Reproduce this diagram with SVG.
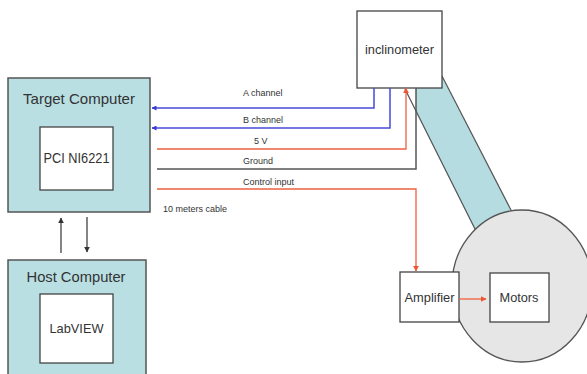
<svg xmlns="http://www.w3.org/2000/svg" width="587" height="374" viewBox="0 0 587 374">
<defs>
<marker id="ab" viewBox="0 0 10 10" refX="9" refY="5" markerWidth="5" markerHeight="5" orient="auto" markerUnits="userSpaceOnUse"><path d="M0,0 L10,5 L0,10 z" fill="#3a3ad8"/></marker>
<marker id="ar" viewBox="0 0 10 10" refX="9" refY="5" markerWidth="6" markerHeight="6" orient="auto" markerUnits="userSpaceOnUse"><path d="M0,0 L10,5 L0,10 z" fill="#ee5533"/></marker>
<marker id="ak" viewBox="0 0 10 10" refX="9" refY="5" markerWidth="6" markerHeight="7" orient="auto" markerUnits="userSpaceOnUse"><path d="M0,0 L10,5 L0,10 z" fill="#333"/></marker>
</defs>
<style>
.box{fill:#fff;stroke:#444;stroke-width:1.3}
.comp{fill:#b9dfe3;stroke:#555;stroke-width:1.5}
.t{font-family:"Liberation Sans",Arial,sans-serif;fill:#333;text-anchor:middle}
.big{font-size:14.5px}
.sm{font-size:9px;font-family:"Liberation Sans",Arial,sans-serif;fill:#333}
.blue{stroke:#4a4ad8;stroke-width:1.5;fill:none}
.red{stroke:#ee6040;stroke-width:1.3;fill:none}
.gray{stroke:#555;stroke-width:1.5;fill:none}
</style>
<rect width="587" height="374" fill="#fff"/>
<g id="band">
<polygon points="416,88 416,111 476,231 512,212 442,76 442,88" fill="#b5dde1"/>
<line x1="405" y1="89" x2="476" y2="231" stroke="#555" stroke-width="1.2"/>
<line x1="442" y1="76" x2="512" y2="212" stroke="#555" stroke-width="1.2"/>
</g>
<g id="motor-body"><ellipse cx="522" cy="286" rx="70" ry="76" fill="#e6e6e6" stroke="#555" stroke-width="1.3"/></g>
<g id="target-computer">
<rect class="comp" x="8" y="78" width="142" height="134"/>
<text class="t big" x="79" y="104" textLength="112" lengthAdjust="spacingAndGlyphs">Target Computer</text>
</g>
<g id="pci">
<rect class="box" x="40" y="127" width="73" height="63"/>
<text class="t" style="font-size:14px" x="76.5" y="163" textLength="66" lengthAdjust="spacingAndGlyphs">PCI NI6221</text>
</g>
<g id="host-computer">
<rect class="comp" x="8" y="260" width="138" height="120"/>
<text class="t big" x="76" y="282" textLength="99" lengthAdjust="spacingAndGlyphs">Host Computer</text>
</g>
<g id="labview">
<rect class="box" x="40" y="294" width="73" height="69"/>
<text class="t" style="font-size:13px" x="76.5" y="333" textLength="54" lengthAdjust="spacingAndGlyphs">LabVIEW</text>
</g>
<g id="inclinometer">
<rect class="box" x="357" y="11" width="85" height="77"/>
<text class="t" style="font-size:13px" x="399.5" y="54" textLength="69" lengthAdjust="spacingAndGlyphs">inclinometer</text>
</g>
<g id="amplifier">
<rect class="box" x="400" y="272" width="59" height="50"/>
<text class="t" style="font-size:13px" x="429.5" y="302" textLength="50" lengthAdjust="spacingAndGlyphs">Amplifier</text>
</g>
<g id="motors">
<rect class="box" x="490" y="273" width="59" height="49"/>
<text class="t" style="font-size:13px" x="519" y="302" textLength="39" lengthAdjust="spacingAndGlyphs">Motors</text>
</g>
<g id="connectors">
<polyline class="blue" points="374,88 374,108 152,108" marker-end="url(#ab)"/>
<polyline class="blue" points="390,88 390,128 152,128" marker-end="url(#ab)"/>
<polyline class="red" points="157,149 406,149 406,88" marker-end="url(#ar)"/>
<polyline class="gray" points="157,169 416,169 416,88"/>
<polyline class="red" points="157,189 416,189 416,271" marker-end="url(#ar)"/>
<line class="red" x1="459" y1="299" x2="486" y2="299" marker-end="url(#ar)"/>
<line x1="61" y1="253" x2="61" y2="218" stroke="#333" stroke-width="1.2" marker-end="url(#ak)"/>
<line x1="87" y1="217" x2="87" y2="252" stroke="#333" stroke-width="1.2" marker-end="url(#ak)"/>
<text class="sm" x="243" y="96">A channel</text>
<text class="sm" x="243" y="123">B channel</text>
<text class="sm" x="254" y="144">5 V</text>
<text class="sm" x="243" y="164">Ground</text>
<text class="sm" x="243" y="185">Control input</text>
<text class="sm" x="163" y="212">10 meters cable</text>
</g>
</svg>
